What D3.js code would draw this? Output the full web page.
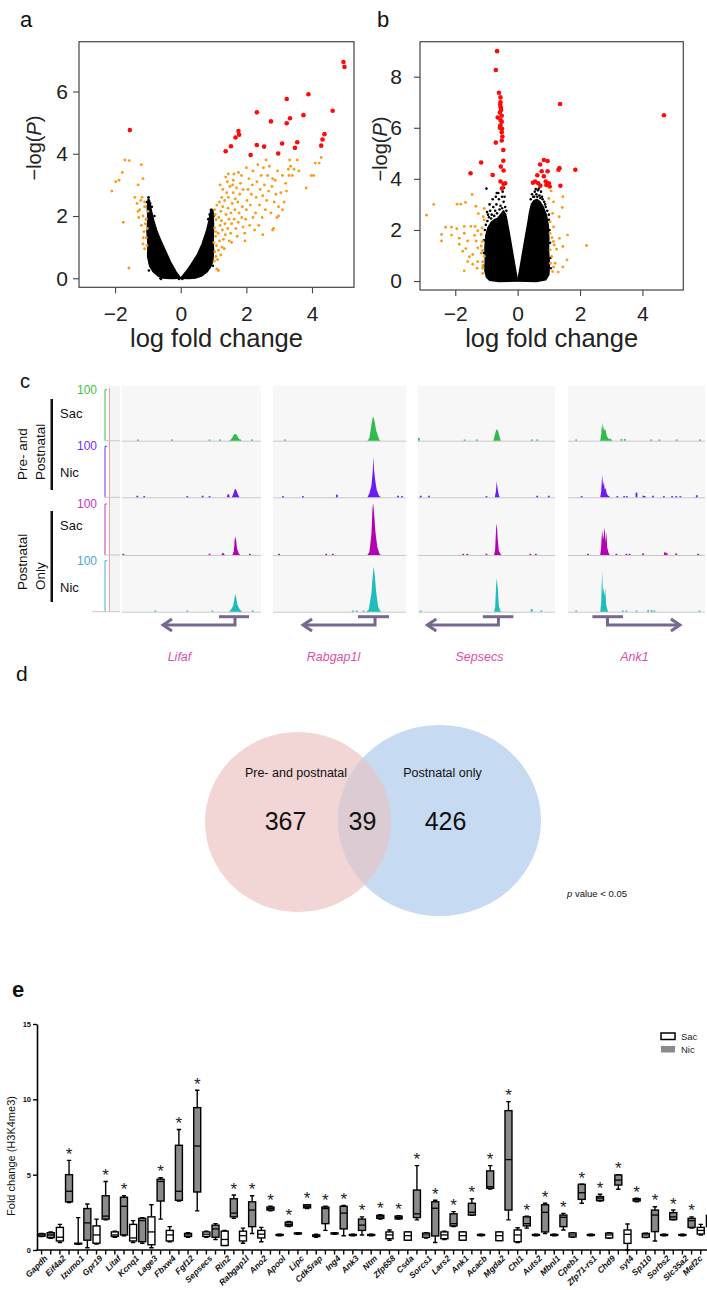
<!DOCTYPE html>
<html>
<head>
<meta charset="utf-8">
<script src="https://cdn.jsdelivr.net/npm/d3@7/dist/d3.min.js"></script>
<style>
html,body{margin:0;padding:0;background:#fff;}
svg{display:block;}
text{font-family:"Liberation Sans",Arial,Helvetica,sans-serif;}
</style>
</head>
<body>
<svg id="fig" width="707" height="1290" viewBox="0 0 707 1290"></svg>
<script>
/* ================= DATA ================= */
// ---- panel a : volcano (log fold change, -log P)
const aRed = [[4.96,6.95],[4.99,6.79],[-1.55,4.76],[3.89,5.91],[3.23,5.76],[2.32,5.33],[4.63,5.38],[3.74,5.24],[3.33,5.14],[3.23,4.98],[2.75,5.04],[1.76,4.73],[1.78,4.61],[1.67,4.52],[1.53,4.24],[1.37,4.08],[2.32,4.28],[2.54,4.23],[2.13,3.96],[3.09,4.33],[2.97,4.01],[3.55,4.37],[3.48,4.19],[4.38,4.63],[4.32,4.46],[4.28,4.26]];
const aOrange = [
 [-2.1,2.8],[-1.98,3.1],[-1.88,3.15],[-1.78,3.4],[-1.7,3.8],[-1.57,3.78],[-1.2,3.65],[-1.15,3.2],[-1.3,3.0],[-1.4,2.6],[-1.75,1.8],[-1.58,0.33],[-1.22,2.5],[-1.33,2.4],[-1.25,2.2],[-1.1,2.3],[-1.15,2.0],[-1.05,1.9],[-1.2,1.7],[-1.12,1.5],[-1.05,1.3],[-1.15,1.1],[-1.1,0.95],[-1.02,1.6],[-1.28,1.95],[-1.0,2.15],[-1.08,1.75],[-1.03,1.05],[-1.18,2.6],[-1.1,2.45],[-1.3,2.15],[-1.14,1.3],
 [1.02,0.55],[1.04,0.85],[1.01,1.15],[1.06,1.35],[1.03,1.62],[1.08,1.88],[1.05,2.05],[1.1,0.3],[1.07,0.7],[1.09,1.05],[1.03,2.2],[1.1,2.35],[1.06,1.5],
 [1.12,0.6],[1.15,0.9],[1.18,1.2],[1.14,1.45],[1.2,1.7],[1.16,1.95],[1.22,2.15],[1.18,2.45],[1.25,2.6],[1.28,2.3],[1.24,1.85],[1.27,1.55],[1.3,1.25],[1.26,1.0],[1.22,0.75],[1.15,0.25],[1.28,2.85],[1.2,3.0],
 [1.33,0.95],[1.36,1.4],[1.35,1.75],[1.38,2.05],[1.34,2.5],[1.4,2.75],[1.42,3.1],[1.45,3.35],[1.44,2.25],[1.47,1.9],[1.43,1.6],[1.48,1.2],[1.45,2.6],[1.5,2.95],[1.37,3.25],
 [1.52,1.45],[1.55,1.75],[1.53,2.1],[1.57,2.4],[1.6,2.75],[1.58,3.0],[1.62,3.35],[1.65,2.2],[1.63,1.9],[1.68,1.6],[1.66,2.55],[1.7,2.9],[1.55,1.15],[1.6,3.15],
 [1.72,1.35],[1.75,1.8],[1.78,2.1],[1.74,2.45],[1.8,2.7],[1.82,3.05],[1.85,3.3],[1.88,2.3],[1.86,1.95],[1.9,1.65],[1.76,3.4],[1.9,2.85],
 [1.95,1.45],[1.98,1.9],[2.0,2.2],[2.02,2.5],[2.05,2.85],[2.08,3.2],[2.1,1.7],[2.12,2.35],[2.15,2.7],[2.18,3.0],[2.2,3.45],[2.0,3.55],[2.2,1.95],[1.96,1.2],
 [2.25,1.55],[2.28,2.1],[2.3,2.6],[2.32,3.1],[2.35,3.65],[2.4,2.35],[2.42,2.85],[2.45,3.3],[2.48,1.95],[2.5,2.65],[2.52,3.55],[2.55,3.0],[2.58,2.2],[2.6,3.8],[2.38,1.7],[2.5,1.4],
 [2.62,2.5],[2.65,3.3],[2.68,2.8],[2.7,3.6],[2.75,2.1],[2.78,2.95],[2.8,3.2],[2.83,1.6],[2.85,2.45],[2.88,3.15],[2.9,2.7],[2.93,1.95],[2.95,3.45],[2.98,2.3],[2.8,1.55],[2.98,2.0],
 [3.05,2.75],[3.1,3.3],[3.15,2.45],[3.2,3.05],[3.22,2.8],[3.28,3.5],[3.3,3.3],[3.35,3.6],[3.4,3.3],[3.45,3.5],[3.32,3.8],[3.1,2.2],
 [3.55,3.8],[3.82,2.9],[3.98,3.3],[4.05,3.3],[4.1,3.7],[4.22,3.7],[4.28,3.88],[3.6,3.45]];
const aBlackLeft = [[0,0],[-0.15,0.22],[-0.3,0.5],[-0.45,0.85],[-0.6,1.2],[-0.72,1.5],[-0.82,1.85],[-0.9,2.2],[-0.95,2.5],[-0.99,2.56],[-1.02,2.3],[-1.0,1.9],[-1.03,1.5],[-1.0,1.1],[-1.01,0.7],[-0.95,0.4],[-0.85,0.22],[-0.7,0.08],[-0.55,0.01],[-0.3,-0.01]];
const aBlackRight = [[0,0],[0.15,0.2],[0.3,0.42],[0.5,0.75],[0.65,1.1],[0.78,1.5],[0.86,1.85],[0.91,2.15],[0.95,2.22],[0.99,2.1],[1.0,1.7],[0.99,1.3],[1.0,0.9],[0.98,0.55],[0.9,0.35],[0.8,0.2],[0.65,0.08],[0.45,0.01],[0.25,-0.01]];
const aBlackPts = [[-1.03,2.45],[-0.98,2.6],[-0.93,2.4],[-1.05,1.9],[-0.62,0.0],[0.92,2.2],[0.97,2.17],[1.0,2.0],[-0.05,-0.02],[0.05,-0.02],[-0.6,-0.02],[-0.97,0.25],[0.98,0.4],[-0.88,2.3],[-0.8,2.0],[0.88,2.05],[0.84,1.9]];
const aXTicks = [-2,0,2,4];
const aYTicks = [0,2,4,6];

// ---- panel b : volcano
const bRed = [[-0.66,9.0],[-0.7,8.26],[-0.6,7.37],[-0.55,7.19],[-0.55,7.0],[-0.56,6.9],[-0.54,6.8],[-0.53,6.7],[-0.57,6.6],[-0.51,6.47],[-0.64,6.4],[-0.55,6.3],[-0.51,6.24],[-0.55,6.1],[-0.57,6.0],[-0.5,5.96],[-0.51,5.83],[-0.49,5.66],[-0.51,5.5],[-0.7,5.42],[-0.46,5.13],[-0.46,4.71],[-0.54,4.48],[-0.45,4.33],[-0.55,3.9],[-0.45,3.8],[-0.4,3.83],[-0.5,3.63],[-1.17,4.64],[-1.51,4.22],[-0.8,4.15],[1.36,6.93],[4.69,6.49],[0.84,4.74],[0.96,4.7],[0.72,4.56],[0.77,4.3],[0.63,4.14],[0.56,3.9],[0.66,3.83],[0.73,3.73],[0.84,4.1],[0.9,3.9],[0.96,4.3],[1.0,3.83],[0.92,3.76],[1.31,4.36],[1.34,4.42],[1.37,3.73],[1.85,4.36],[0.49,3.85],[1.03,3.7]];
const bOrange = [[-2.92,2.58],[-2.69,3.0],[-2.44,1.82],[-2.44,1.57],[-2.31,2.11],[-2.12,2.11],[-1.94,3.01],[-1.82,3.01],[-1.67,3.08],[-1.46,3.39],[-1.34,2.93],[-1.26,2.64],[-1.1,2.52],[-1.07,2.39],[-1.07,2.84],[-2.12,1.8],[-1.95,2.05],[-1.71,2.14],[-1.5,2.14],[-1.36,2.14],[-1.87,1.68],[-1.71,1.87],[-1.6,1.57],[-1.76,1.17],[-1.66,1.27],[-1.87,1.44],[-1.38,1.79],[-1.28,1.97],[-1.17,1.82],[-1.12,1.56],[-1.28,1.3],[-1.17,1.1],[-1.07,0.97],[-1.12,0.76],[-1.12,0.5],[-1.28,0.76],[-1.71,0.4],[-1.44,0.66],[-1.6,0.76],[-1.44,1.04],[-1.33,1.57],[-1.17,1.37],[-1.14,2.08],[-1.12,0.3],[-1.12,0.6],[-1.3,0.5],[-1.55,0.95],[-1.12,1.2],
 [1.07,3.53],[1.0,3.23],[1.45,3.3],[1.15,3.1],[1.43,2.88],[1.12,2.65],[1.33,2.52],[1.04,2.32],[1.15,2.12],[1.6,1.8],[1.04,1.86],[1.34,1.67],[1.17,1.41],[1.04,1.22],[1.45,1.35],[1.09,0.96],[1.2,0.7],[1.58,0.83],[1.45,0.55],[1.12,0.37],[2.21,1.39],[1.15,1.55],[1.1,1.7],[1.25,1.25],[1.15,0.55],[1.05,0.7],[1.3,0.35]];
const bBlackLeft = [[0,0],[-0.06,0.4],[-0.13,0.9],[-0.2,1.4],[-0.27,1.9],[-0.33,2.3],[-0.38,2.6],[-0.45,2.75],[-0.55,2.6],[-0.65,2.45],[-0.75,2.4],[-0.85,2.3],[-0.95,2.1],[-1.02,1.8],[-1.05,1.3],[-1.04,0.8],[-1.05,0.4],[-1.0,0.15],[-0.9,0.03],[-0.6,-0.02]];
const bBlackRight = [[0,0],[0.06,0.4],[0.13,0.9],[0.2,1.4],[0.27,1.9],[0.33,2.3],[0.38,2.7],[0.44,3.0],[0.52,3.15],[0.62,3.2],[0.72,3.1],[0.82,2.9],[0.92,2.6],[0.98,2.2],[1.0,1.7],[0.99,1.2],[1.02,0.7],[1.0,0.25],[0.9,0.05],[0.6,-0.02]];
const bBlackPts = [[-0.4,2.9],[-0.45,3.1],[-0.5,3.3],[-0.48,3.5],[-0.55,2.95],[-0.6,3.2],[-0.62,3.45],[-0.68,3.0],[-0.72,2.75],[-0.78,2.9],[-0.83,2.6],[-0.88,2.75],[-0.92,2.5],[-0.97,2.35],[-1.02,2.2],[-1.05,2.0],[-0.58,2.8],[-0.66,2.65],[-0.42,3.3],[-0.52,3.6],[-0.44,3.65],[-1.0,3.62],[-0.67,3.45],[-0.8,3.2],[-0.9,3.0],[-0.98,2.7],[-1.08,1.6],[-1.08,1.1],[-1.1,0.6],[-0.75,2.55],[-0.95,2.6],[-0.7,3.3],[-0.36,2.75],[-0.5,2.85],[-0.85,2.45],
 [0.42,3.2],[0.46,3.4],[0.5,3.3],[0.55,3.5],[0.6,3.4],[0.65,3.55],[0.7,3.35],[0.75,3.5],[0.8,3.2],[0.85,3.1],[0.9,2.9],[0.95,2.75],[1.0,2.4],[1.02,2.0],[1.04,1.5],[1.05,0.9],[0.58,3.6],[0.68,3.62],[0.78,3.3],[0.88,3.0],[1.0,2.6],[1.06,0.5],[0.97,0.3],[0.53,3.3],[0.63,3.3],[0.73,3.25]];
const bXTicks = [-2,0,2,4];
const bYTicks = [0,2,4,6,8];

// ---- panel c : ChIP tracks
const cGenes = ["Lifaf","Rabgap1l","Sepsecs","Ank1"];
const cTrackLabels = ["Sac","Nic","Sac","Nic"];
const cTrackMax = [100,100,100,100];
// peak profiles [relative position, signal]
const peaksLifaf = [
 [[0.77,0],[0.785,3],[0.8,9],[0.81,13],[0.825,12],[0.835,6],[0.845,3],[0.86,0]],
 [[0.755,0],[0.76,6],[0.77,6],[0.775,0],[0.79,0],[0.8,6],[0.81,14],[0.815,17],[0.825,12],[0.835,5],[0.845,0]],
 [[0.715,0],[0.725,5],[0.74,0],[0.795,0],[0.805,8],[0.81,28],[0.815,36],[0.82,30],[0.828,12],[0.84,3],[0.85,0]],
 [[0.77,0],[0.785,4],[0.8,12],[0.81,28],[0.815,34],[0.822,26],[0.83,14],[0.845,5],[0.86,1],[0.87,0]]];
const blipsLifaf = [
 [[0.115,1.5],[0.36,2],[0.63,1.5],[0.705,2],[0.85,1.5],[0.935,1]],
 [[0.11,3],[0.16,2],[0.47,2],[0.58,3],[0.63,2]],
 [[0.01,2],[0.63,1.5],[0.92,1.5]],
 [[0.24,1.5],[0.47,1],[0.65,2],[0.94,1.5]]];
const peaksRabgap1l = [
 [[0.71,0],[0.725,5],[0.74,30],[0.75,44],[0.755,46],[0.765,36],[0.775,20],[0.79,8],[0.8,2],[0.81,0]],
 [[0.71,0],[0.725,8],[0.74,22],[0.75,50],[0.755,78],[0.76,52],[0.77,30],[0.78,14],[0.795,4],[0.81,0]],
 [[0.71,0],[0.725,6],[0.74,40],[0.748,90],[0.753,100],[0.76,80],[0.77,45],[0.785,14],[0.8,3],[0.81,0]],
 [[0.7,0],[0.72,4],[0.74,35],[0.75,70],[0.757,87],[0.765,70],[0.775,40],[0.79,10],[0.805,2],[0.815,0]]];
const blipsRabgap1l = [
 [[0.09,1.5]],
 [[0.075,2],[0.225,1.5],[0.48,5],[0.94,3],[0.97,2]],
 [[0.045,1.5],[0.4,2],[0.45,2]],
 [[0.6,1],[0.63,1],[0.68,2]]];
const peaksSepsecs = [
 [[0.55,0],[0.56,10],[0.57,20],[0.575,22],[0.585,18],[0.595,8],[0.605,0]],
 [[0.56,0],[0.568,10],[0.575,31],[0.582,15],[0.59,4],[0.597,0]],
 [[0.555,0],[0.563,10],[0.57,50],[0.575,61],[0.582,30],[0.59,8],[0.6,3],[0.61,0]],
 [[0.555,0],[0.563,8],[0.57,50],[0.575,65],[0.582,45],[0.59,12],[0.6,2],[0.61,0]]];
const blipsSepsecs = [
 [[0.006,5],[0.34,2],[0.43,1.5],[0.83,1.5],[0.87,1.5]],
 [[0.02,3],[0.08,3],[0.5,1.5],[0.87,3],[0.955,3]],
 [[0.33,2],[0.36,2],[0.5,1.5],[0.82,2],[0.86,2]],
 [[0.02,1],[0.83,5],[0.9,1]]];
const peaksAnk1 = [
 [[0.235,0],[0.242,12],[0.249,35],[0.256,20],[0.262,28],[0.268,18],[0.275,22],[0.282,10],[0.29,6],[0.3,3],[0.31,4],[0.32,1],[0.33,0]],
 [[0.235,0],[0.242,10],[0.249,43],[0.256,22],[0.262,30],[0.268,15],[0.275,18],[0.282,8],[0.29,4],[0.3,2],[0.31,0]],
 [[0.235,0],[0.242,15],[0.249,48],[0.256,30],[0.262,40],[0.268,54],[0.274,25],[0.28,44],[0.286,15],[0.295,5],[0.305,0]],
 [[0.235,0],[0.242,15],[0.249,77],[0.255,35],[0.26,47],[0.266,30],[0.272,45],[0.278,15],[0.285,5],[0.295,0]]];
const blipsAnk1 = [
 [[0.06,1.5],[0.39,3],[0.415,3],[0.607,1.5],[0.668,1.5],[0.793,1.5],[0.963,1.5]],
 [[0.1,1],[0.36,2],[0.41,2],[0.43,2],[0.5,9],[0.55,3],[0.56,2],[0.62,3],[0.7,2],[0.76,2],[0.79,2],[0.82,2],[0.94,4]],
 [[0.146,2],[0.353,2],[0.426,2],[0.45,2],[0.548,3],[0.707,5],[0.72,4],[0.79,3],[0.95,2]],
 [[0.06,2],[0.4,2],[0.426,2],[0.5,2],[0.585,3],[0.61,3],[0.63,2],[0.96,2]]];
const cPeaks = [peaksLifaf, peaksRabgap1l, peaksSepsecs, peaksAnk1];
const cBlips = [blipsLifaf, blipsRabgap1l, blipsSepsecs, blipsAnk1];
// gene models (relative positions)
const cExon = [[0.698,0.914],[0.639,0.872],[0.473,0.696],[0.178,0.402]];
const cTSS = [0.813,0.767,0.587,0.288];
const cTxEnd = [0.295,0.226,0.068,0.817];

// ---- panel d : Venn
const vennSets = ["Pre- and postnatal","Postnatal only"];
const vennCounts = [367,39,426];

// ---- panel e : box plots
const eGenes = ["Gapdh","Eif4a2","Izumo1","Gpr19","Litaf","Kcnq1","Lage3","Fbxw4","Fgf12","Sepsecs","Rin2","Rabgap1l","Ano2","Apool","Lipc","Cdk5rap","Ing4","Ank3","Ntm","Zfp658","Csda","Sorcs1","Lars2","Ank1","Acacb","Mgda2","Chl1","Auts2","Mbnl1","Cpeb1","Zfp71-rs1","Chd9","syt4","Sp110","Sorbs2","Slc35a2","Mef2c"];
// [min, q1, median, q3, max]
const eSac = [[0.9,0.92,1.0,1.07,1.1],[0.5,0.6,0.85,1.5,1.7],[0.4,0.4,0.42,0.45,2.15],[0.4,0.45,1.0,1.6,2.05],[0.85,0.9,1.0,1.2,1.25],[0.5,0.6,0.8,1.7,1.95],[0.15,0.35,1.2,2.2,3.0],[0.55,0.6,1.0,1.3,1.55],[0.85,0.9,1.0,1.1,1.15],[0.85,0.9,1.05,1.2,1.25],[0.3,0.3,0.7,1.25,1.3],[0.45,0.6,0.95,1.25,1.45],[0.55,0.8,1.05,1.3,1.5],[0.95,0.97,1.0,1.03,1.05],[1.05,1.07,1.1,1.13,1.15],[0.85,0.9,0.95,1.0,1.05],[1.05,1.07,1.1,1.13,1.15],[0.95,0.97,1.0,1.03,1.05],[0.95,0.97,1.0,1.03,1.05],[0.65,0.75,1.0,1.2,1.33],[0.65,0.65,0.95,1.2,1.2],[0.8,0.85,1.0,1.12,1.15],[0.7,0.75,1.0,1.2,1.25],[0.65,0.65,0.95,1.2,1.2],[0.95,0.97,1.0,1.03,1.05],[0.62,0.62,0.95,1.2,1.2],[0.5,0.55,1.0,1.33,1.48],[0.95,0.97,1.0,1.03,1.05],[0.95,0.97,1.0,1.03,1.05],[0.85,0.87,1.0,1.13,1.15],[0.95,0.97,1.0,1.03,1.05],[0.77,0.8,1.0,1.12,1.15],[0.0,0.44,1.04,1.33,1.73],[0.82,0.85,1.0,1.1,1.12],[0.95,0.97,1.0,1.03,1.05],[0.95,0.97,1.0,1.03,1.05],[1.0,1.06,1.3,1.5,1.7]];
const eNic = [[0.78,0.82,1.0,1.15,1.2],[3.15,3.2,3.9,5.0,5.95],[0.15,0.65,1.8,2.75,3.05],[2.0,2.05,2.25,3.6,4.55],[0.95,1.0,2.9,3.5,3.6],[0.45,0.55,1.95,2.1,2.15],[2.05,3.25,4.55,4.7,4.8],[3.25,3.3,3.9,6.95,8.0],[2.6,3.85,6.9,9.45,10.6],[0.7,0.85,1.4,1.65,1.75],[2.1,2.2,2.45,3.4,3.65],[1.1,1.55,2.65,3.2,3.6],[2.6,2.65,2.75,2.85,2.9],[1.55,1.6,1.7,1.85,1.9],[2.75,2.8,2.9,3.0,3.0],[1.3,1.75,2.75,2.85,2.9],[0.95,1.4,2.45,2.9,2.95],[1.0,1.3,1.65,2.05,2.2],[2.05,2.1,2.2,2.3,2.35],[2.05,2.07,2.15,2.25,2.28],[2.0,2.15,2.4,3.98,5.6],[0.5,0.93,2.77,3.2,3.3],[1.55,1.6,1.75,2.4,2.55],[2.3,2.32,2.5,3.1,3.4],[4.05,4.1,4.2,5.25,5.6],[2.0,2.65,6.0,9.25,9.85],[1.45,1.6,1.75,2.2,2.25],[1.1,1.2,2.5,3.0,3.1],[1.33,1.55,2.17,2.32,2.43],[3.1,3.36,3.8,4.36,4.36],[3.25,3.28,3.45,3.55,3.7],[4.03,4.31,4.64,4.98,5.0],[3.2,3.25,3.35,3.4,3.43],[0.6,1.22,2.32,2.65,2.87],[2.0,2.02,2.2,2.48,2.65],[1.45,1.5,1.95,2.1,2.2],[1.5,1.55,1.8,2.3,2.4]];
const eSig = [0,1,0,1,1,0,1,1,1,0,1,1,1,1,1,1,1,1,1,1,1,1,1,1,1,1,1,1,1,1,1,1,1,1,1,1,0];
const eYTicks = [0,5,10,15];
const eGroups = ["Sac","Nic"];

/* ================= DRAW ================= */
const svg = d3.select("#fig");
const FONT = '"Liberation Sans", Arial, Helvetica, sans-serif';
const fmtTick = d => d < 0 ? "\u2212" + Math.abs(d) : String(d);

function panelLabel(t, x, y, size, weight){
  svg.append("text").attr("x",x).attr("y",y).attr("font-size",size)
     .attr("font-weight",weight||"normal").attr("fill","#111").text(t);
}

function volcano(o){
  const x = d3.scaleLinear().domain(o.xd).range(o.xr);
  const y = d3.scaleLinear().domain(o.yd).range(o.yr);
  const g = svg.append("g");
  const cid = "clip" + o.id;
  g.append("clipPath").attr("id",cid).append("rect")
   .attr("x",o.xr[0]).attr("y",o.yr[1]).attr("width",o.xr[1]-o.xr[0]).attr("height",o.yr[0]-o.yr[1]);
  const pg = g.append("g").attr("clip-path",`url(#${cid})`);
  const ln = d3.line().x(d=>x(d[0])).y(d=>y(d[1]));
  pg.selectAll("path.cloud").data(o.clouds).join("path").attr("class","cloud")
    .attr("d",d=>ln(d)+"Z").attr("fill","#000").attr("stroke","#000").attr("stroke-width",1.4).attr("stroke-linejoin","round");
  pg.selectAll("circle.bk").data(o.black).join("circle").attr("class","bk")
    .attr("cx",d=>x(d[0])).attr("cy",d=>y(d[1])).attr("r",1.3).attr("fill","#000");
  pg.selectAll("circle.or").data(o.orange).join("circle").attr("class","or")
    .attr("cx",d=>x(d[0])).attr("cy",d=>y(d[1])).attr("r",1.45).attr("fill","#f59d1c");
  pg.selectAll("circle.rd").data(o.red).join("circle").attr("class","rd")
    .attr("cx",d=>x(d[0])).attr("cy",d=>y(d[1])).attr("r",2.3).attr("fill","#ff0a0a");
  g.append("rect").attr("x",o.xr[0]).attr("y",o.yr[1]).attr("width",o.xr[1]-o.xr[0]).attr("height",o.yr[0]-o.yr[1])
   .attr("fill","none").attr("stroke","#444").attr("stroke-width",1.2);
  const xa = g.append("g").attr("transform",`translate(0,${o.yr[0]})`)
    .call(d3.axisBottom(x).tickValues(o.xt).tickSize(6).tickPadding(o.xpad).tickFormat(fmtTick));
  const ya = g.append("g").attr("transform",`translate(${o.xr[0]},0)`)
    .call(d3.axisLeft(y).tickValues(o.yt).tickSize(6).tickPadding(o.ypad).tickFormat(fmtTick));
  [xa,ya].forEach(a=>{
    a.select(".domain").remove();
    a.selectAll("line").attr("stroke","#444").attr("stroke-width",1.1);
    a.selectAll("text").attr("font-size",21).attr("fill","#222").attr("font-family",FONT);
  });
  g.append("text").attr("x",(o.xr[0]+o.xr[1])/2).attr("y",o.xlabY).attr("text-anchor","middle")
   .attr("font-size",25.5).attr("fill","#222").text("log fold change");
  const yt = g.append("text").attr("transform",`translate(${o.ylabX},${o.ylabCY}) rotate(-90)`)
   .attr("text-anchor","middle").attr("font-size",20).attr("fill","#222");
  yt.append("tspan").text("\u2212log(");
  yt.append("tspan").attr("font-style","italic").text("P");
  yt.append("tspan").text(")");
}

panelLabel("a",20,27,22);
panelLabel("b",377,27,22);
volcano({id:"a", xd:[-3.1,5.28], xr:[79,354], yd:[-0.29,7.6], yr:[287.3,41.7],
  clouds:[aBlackLeft,aBlackRight], black:aBlackPts, orange:aOrange, red:aRed,
  xt:aXTicks, yt:aYTicks, xpad:13, ypad:5, xlabY:347, ylabX:41, ylabCY:148});
volcano({id:"b", xd:[-3.13,5.31], xr:[420,683.3], yd:[-0.35,9.37], yr:[290,41.7],
  clouds:[bBlackLeft,bBlackRight], black:bBlackPts, orange:bOrange, red:bRed,
  xt:bXTicks, yt:bYTicks, xpad:10, ypad:12, xlabY:347, ylabX:387, ylabCY:149});

/* ---- panel c ---- */
panelLabel("c",20,388,20);
const cPanelX = [[122,261],[273,406],[418,555],[568,705]];
const trackBase = [440.7,497.3,555,611.7];
const trackTop = 385.7;
const trackColor = ["#2ebd4a","#6a1cf7","#b400b4","#1fbcbc"];
const labelColor = ["#3cc23c","#7a2cf0","#c433c8","#4aa8d6"];
const gc = svg.append("g");
// left scale area
gc.append("rect").attr("x",110).attr("y",trackTop).attr("width",10).attr("height",trackBase[3]-trackTop).attr("fill","#f4f4f4");
gc.append("line").attr("x1",109.5).attr("x2",109.5).attr("y1",trackTop+2).attr("y2",trackBase[3]).attr("stroke","#f3a3aa").attr("stroke-width",1);
trackBase.forEach((b,i)=>{
  const hS = d3.scaleLinear().domain([0,cTrackMax[i]]).range([b,b-52]);
  gc.append("path").attr("d",`M107,${hS(cTrackMax[i])+1}H105V${b}`).attr("fill","none").attr("stroke",labelColor[i]).attr("stroke-width",1);
  gc.append("text").attr("x",97).attr("y",hS(cTrackMax[i])+5).attr("text-anchor","end").attr("font-size",12).attr("fill",labelColor[i]).text(cTrackMax[i]);
  gc.append("line").attr("x1",i===3?92:105).attr("x2",120).attr("y1",b).attr("y2",b).attr("stroke","#c8c8c8").attr("stroke-width",1);
});
const gnameDx = [-12,-6,-7,-2];
cGenes.forEach((gname,gi)=>{
  const [x0,x1] = cPanelX[gi];
  const xs = d3.scaleLinear().domain([0,1]).range([x0,x1]);
  gc.append("rect").attr("x",x0).attr("y",trackTop).attr("width",x1-x0).attr("height",trackBase[3]-trackTop).attr("fill","#f7f7f7");
  trackBase.forEach((b,ti)=>{
    const hS = d3.scaleLinear().domain([0,cTrackMax[ti]]).range([0,52]);
    gc.append("line").attr("x1",x0).attr("x2",x1).attr("y1",b+0.5).attr("y2",b+0.5).attr("stroke","#c8c8c8").attr("stroke-width",1);
    const area = d3.area().x(d=>xs(d[0])).y0(b).y1(d=>b-hS(d[1]));
    gc.append("path").attr("d",area(cPeaks[gi][ti])).attr("fill",trackColor[ti]);
    gc.selectAll(null).data(cBlips[gi][ti]).join("rect")
      .attr("x",d=>xs(d[0])-0.9).attr("width",1.8)
      .attr("y",d=>b-Math.max(1.2,hS(d[1]))).attr("height",d=>Math.max(1.2,hS(d[1])))
      .attr("fill",trackColor[ti]);
  });
  // gene model
  const col = "#76688f";
  const yEx = 616.7, yArr = 625;
  gc.append("line").attr("x1",xs(cExon[gi][0])).attr("x2",xs(cExon[gi][1])).attr("y1",yEx).attr("y2",yEx)
    .attr("stroke",col).attr("stroke-width",3);
  const dir = Math.sign(cTxEnd[gi]-cTSS[gi]);
  const ex = xs(cTxEnd[gi]);
  gc.append("path").attr("d",`M${xs(cTSS[gi])},${yEx}V${yArr}H${ex}`).attr("fill","none").attr("stroke",col).attr("stroke-width",3);
  gc.append("path").attr("d",`M${ex-dir*9},${yArr-6}L${ex},${yArr}L${ex-dir*9},${yArr+6}`).attr("fill","none").attr("stroke",col).attr("stroke-width",3).attr("stroke-linejoin","miter");
  gc.append("text").attr("x",(x0+x1)/2 + gnameDx[gi]).attr("y",661).attr("text-anchor","middle")
    .attr("font-size",12.5).attr("font-style","italic").attr("fill","#dd4fa8").text(gname);
});
// track labels
const labY = [418,477,530,592];
cTrackLabels.forEach((t,i)=>{
  gc.append("text").attr("x",60).attr("y",labY[i]).attr("font-size",13).attr("fill","#111").text(t);
});
gc.append("rect").attr("x",50.5).attr("y",399).attr("width",2.5).attr("height",91).attr("fill","#111");
gc.append("rect").attr("x",50.5).attr("y",511).attr("width",2.5).attr("height",91).attr("fill","#111");
[["Pre- and",27,480],["Postnatal",45,480],["Postnatal",27,590],["Only",45,590]].forEach(d=>{
  gc.append("text").attr("transform",`translate(${d[1]},${d[2]}) rotate(-90)`).attr("font-size",13.5).attr("fill","#111").text(d[0]);
});

/* ---- panel d ---- */
panelLabel("d",16,681,21);
const gd = svg.append("g");
const ell = [{cx:298,cy:822,rx:93,ry:90},{cx:439.5,cy:820.5,rx:101.5,ry:95.5}];
const vcol = ["#f2d5d5","#c6daf1"];
gd.append("clipPath").attr("id","vclip").append("ellipse").attr("cx",ell[1].cx).attr("cy",ell[1].cy).attr("rx",ell[1].rx).attr("ry",ell[1].ry);
ell.forEach((e,i)=>gd.append("ellipse").attr("cx",e.cx).attr("cy",e.cy).attr("rx",e.rx).attr("ry",e.ry).attr("fill",vcol[i]));
gd.append("ellipse").attr("cx",ell[0].cx).attr("cy",ell[0].cy).attr("rx",ell[0].rx).attr("ry",ell[0].ry).attr("fill","#dccbd2").attr("clip-path","url(#vclip)");
gd.append("text").attr("x",296).attr("y",777).attr("text-anchor","middle").attr("font-size",12.5).attr("fill","#111").text(vennSets[0]);
gd.append("text").attr("x",442.5).attr("y",777).attr("text-anchor","middle").attr("font-size",12.5).attr("fill","#111").text(vennSets[1]);
[285.5,362.5,445.5].forEach((cx,i)=>gd.append("text").attr("x",cx).attr("y",830).attr("text-anchor","middle").attr("font-size",25).attr("fill","#111").text(vennCounts[i]));
const pv = gd.append("text").attr("x",567).attr("y",897).attr("font-size",9.5).attr("fill","#111");
pv.append("tspan").attr("font-style","italic").text("p");
pv.append("tspan").text(" value < 0.05");

/* ---- panel e ---- */
panelLabel("e",12,997,22,"bold");
const ge = svg.append("g");
const yE = d3.scaleLinear().domain([0,15]).range([1250,1024]);
const xE = d3.scaleBand().domain(eGenes).range([37, 37+37*18.31]).padding(0);
const xSub = d3.scaleBand().domain(eGroups).range([0, xE.bandwidth()]);
const bw = 7;
// y axis
const yAx = ge.append("g").attr("transform","translate(37,0)")
  .call(d3.axisLeft(yE).tickValues(eYTicks).tickSize(4).tickSizeOuter(0).tickPadding(2));
yAx.select(".domain").attr("stroke","#000").attr("stroke-width",1.6);
yAx.selectAll("line").attr("stroke","#000").attr("stroke-width",1.4);
yAx.selectAll("text").attr("font-size",7.5).attr("font-weight","bold").attr("fill","#111").attr("font-family",FONT);
ge.append("text").attr("transform","translate(15,1156) rotate(-90)").attr("text-anchor","middle")
  .attr("font-size",11).attr("fill","#111").text("Fold change (H3K4me3)");
// x axis
ge.append("line").attr("x1",36.2).attr("x2",707).attr("y1",1250).attr("y2",1250).attr("stroke","#000").attr("stroke-width",1.6);
const boxes = [];
eGenes.forEach((g,i)=>{
  boxes.push({gene:g, grp:"Sac", v:eSac[i], sig:false});
  boxes.push({gene:g, grp:"Nic", v:eNic[i], sig:!!eSig[i]});
});
const cxOf = d => xE(d.gene) + xSub(d.grp) + xSub.bandwidth()/2;
ge.selectAll("line.xt").data(boxes).join("line").attr("class","xt")
  .attr("x1",cxOf).attr("x2",cxOf).attr("y1",1250).attr("y2",1254.5).attr("stroke","#000").attr("stroke-width",1.4);
const bg = ge.selectAll("g.box").data(boxes).join("g").attr("class","box");
bg.append("path").attr("d",d=>{
    const c=cxOf(d);
    return `M${c},${yE(d.v[4])}V${yE(d.v[3])}M${c},${yE(d.v[1])}V${yE(d.v[0])}`+
      `M${c-2.2},${yE(d.v[4])}H${c+2.2}M${c-2.2},${yE(d.v[0])}H${c+2.2}`;
  }).attr("stroke","#000").attr("stroke-width",1.4).attr("fill","none");
bg.append("rect").attr("x",d=>cxOf(d)-bw/2).attr("width",bw)
  .attr("y",d=>yE(d.v[3])).attr("height",d=>Math.max(0.5,yE(d.v[1])-yE(d.v[3])))
  .attr("fill",d=>d.grp==="Sac"?"#fff":"#8a8a8a").attr("stroke","#000").attr("stroke-width",1.4);
bg.append("line").attr("x1",d=>cxOf(d)-bw/2).attr("x2",d=>cxOf(d)+bw/2)
  .attr("y1",d=>yE(d.v[2])).attr("y2",d=>yE(d.v[2])).attr("stroke","#000").attr("stroke-width",1.3);
ge.selectAll("text.star").data(boxes.filter(d=>d.sig)).join("text").attr("class","star")
  .attr("x",cxOf).attr("y",d=>yE(d.v[4])-0.5).attr("text-anchor","middle").attr("font-size",17).attr("fill","#222").text("*");
ge.selectAll("text.gl").data(eGenes).join("text").attr("class","gl")
  .attr("transform",g=>`translate(${Math.min(703, xE(g)+xE.bandwidth()/2+2)},1259) rotate(-45)`)
  .attr("text-anchor","end").attr("font-size",8.5).attr("font-weight","bold").attr("font-style","italic").attr("fill","#111").text(g=>g);
// legend
const lg = ge.append("g");
eGroups.forEach((grp,i)=>{
  lg.append("rect").attr("x",661).attr("y",1033+i*13).attr("width",14).attr("height",6.5)
    .attr("fill",grp==="Sac"?"#fff":"#8a8a8a").attr("stroke",grp==="Sac"?"#000":"none").attr("stroke-width",1.5);
  lg.append("text").attr("x",681).attr("y",1040+i*13).attr("font-size",9.5).attr("fill","#222").text(grp);
});
</script>
</body>
</html>
